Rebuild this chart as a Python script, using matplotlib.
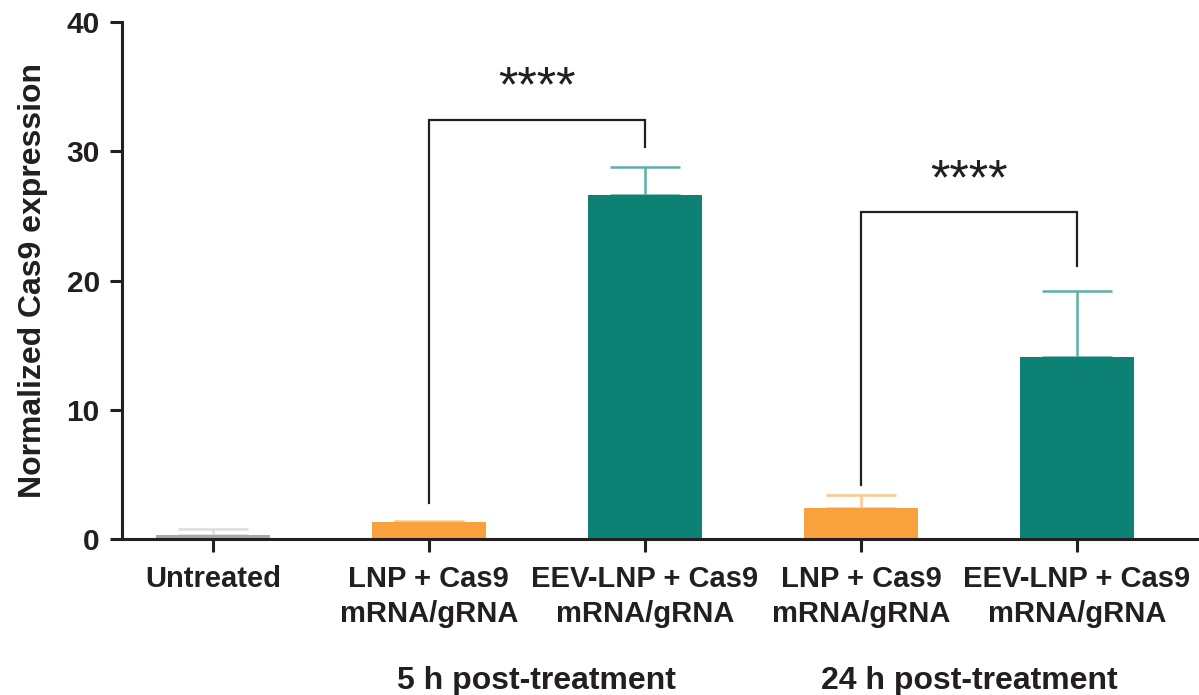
import matplotlib.pyplot as plt

plt.rcParams['font.family'] = ['Liberation Sans', 'DejaVu Sans']

# bar data (mean and upper SD)
labels = ["Untreated", "LNP + Cas9\nmRNA/gRNA", "EEV-LNP + Cas9\nmRNA/gRNA",
          "LNP + Cas9\nmRNA/gRNA", "EEV-LNP + Cas9\nmRNA/gRNA"]
means = [0.3, 1.3, 26.6, 2.4, 14.1]
errs = [0.5, 0.1, 2.2, 1.0, 5.1]
bar_colors = ["#A8A8A8", "#F9A13D", "#0E8175", "#F9A13D", "#0E8175"]
err_colors = ["#DCDCDC", "#FCC68C", "#5DB0A6", "#FCC68C", "#5DB0A6"]

groups = ["5 h post-treatment", "24 h post-treatment"]
# significance brackets: (left bar, right bar, top, left leg end, right leg end, star y)
brackets = [(1, 2, 32.4, 2.8, 30.3, 34.9), (3, 4, 25.3, 4.2, 21.1, 27.7)]
sig_text = "****"

ink = "#231F20"

fig = plt.figure(figsize=(11.99, 6.95), dpi=100)
ax = fig.add_axes([0.1018, 0.2245, 0.8982, 0.7438])

x = list(range(len(means)))
for i in x:
    ax.errorbar(i, means[i], yerr=[[0], [errs[i]]], fmt="none",
                ecolor=err_colors[i], elinewidth=1.8, capsize=25,
                capthick=1.8, zorder=1)
ax.bar(x, means, width=0.53, color=bar_colors, zorder=2)

for a, b, top, la, lb, sy in brackets:
    ax.plot([a, a, b, b], [la, top, top, lb], color=ink, lw=1.6,
            solid_joinstyle="miter", zorder=3)
    ax.text((a + b) / 2, sy, sig_text, ha="center", va="center",
            fontsize=36, color=ink)

ax.set_xlim(-0.42, 4.565)
ax.set_ylim(0, 40)
ax.set_yticks([0, 10, 20, 30, 40])
ax.set_xticks(x)
ax.set_xticklabels(labels, fontsize=21, fontweight="bold", color=ink,
                   linespacing=1.3)
for t in ax.get_yticklabels():
    t.set_fontsize(21.5)
    t.set_fontweight("bold")
    t.set_color(ink)
ax.tick_params(axis="both", width=2.2, length=9, color=ink)
ax.tick_params(axis="x", pad=10)
ax.tick_params(axis="y", pad=7)

ax.spines["top"].set_visible(False)
ax.spines["right"].set_visible(False)
ax.spines["left"].set_linewidth(2.2)
ax.spines["bottom"].set_linewidth(2.2)
ax.spines["left"].set_color(ink)
ax.spines["bottom"].set_color(ink)

ax.set_ylabel("Normalized Cas9 expression", fontsize=23,
              fontweight="bold", color=ink, labelpad=13)

for k, g in enumerate(groups):
    ax.text(1.5 + 2 * k, -11.0, g, ha="center", va="center", fontsize=23,
            fontweight="bold", color=ink, transform=ax.transData)

fig.savefig("out.png", dpi=100)
